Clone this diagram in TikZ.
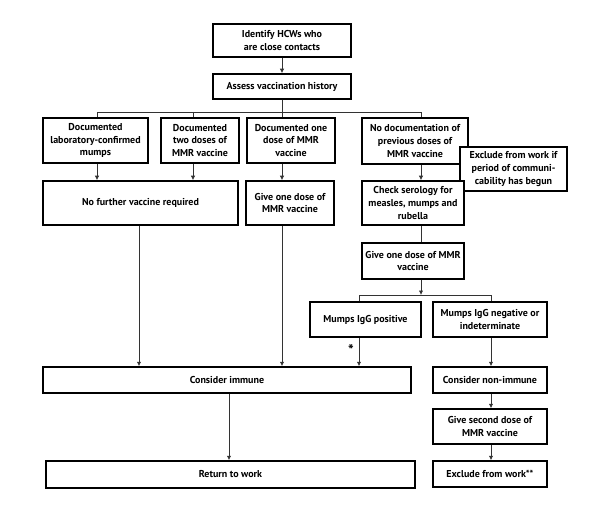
\documentclass[tikz,border=0pt]{standalone}
\usepackage{fontspec}
\setmainfont{PT Sans}
\usetikzlibrary{arrows.meta,calc}
\begin{document}
\begin{tikzpicture}[x=1bp,y=-1bp,
  box/.style={draw=black,line width=1.5bp,fill=white,align=center,inner sep=1bp,
    font=\fontsize{10bp}{12.6bp}\selectfont\bfseries},
  ln/.style={draw=black!80,line width=0.8bp},
  arr/.style={ln,-{Latex[length=4.5bp,width=4.5bp]}}]
\useasboundingbox (0,0) rectangle (598,513);
% columns / rows
\coordinate (c1) at (97,0);
\coordinate (c2) at (193,0);
\coordinate (c3) at (282,0);
\coordinate (c4) at (421,0);
\coordinate (cnf) at (139,0);
\coordinate (cpos) at (359,0);
\coordinate (cneg) at (491,0);
\coordinate (cret) at (229,0);
\coordinate (bar1) at (0,112);
\coordinate (bar2) at (0,295);
% nodes
\node[box,minimum width=138bp,minimum height=33bp] (idf) at (282,40.5) {Identify HCWs who\\are close contacts};
\node[box,minimum width=138bp,minimum height=25bp] (ass) at (282,86.5) {Assess vaccination history};
\node[box,minimum width=105bp,minimum height=45bp] (b1) at (95.5,140.5) {Documented\\laboratory-confirmed\\mumps};
\node[box,minimum width=78bp,minimum height=45bp] (b2) at (200,140.5) {Documented\\two doses of\\MMR vaccine};
\node[box,minimum width=88bp,minimum height=45bp] (b3) at (291,140.5) {Documented one\\dose of MMR\\vaccine};
\node[box,minimum width=106bp,minimum height=46bp] (b4) at (415,141) {No documentation of\\previous doses of\\MMR vaccine};
\node[box,minimum width=107bp,minimum height=44bp] (exc) at (513.5,169) {Exclude from work if\\period of communi-\\cability has begun};
\node[box,minimum width=195bp,minimum height=44bp] (nf) at (140.5,203) {No further vaccine required};
\node[box,minimum width=88bp,minimum height=44bp] (g1) at (290,203) {Give one dose of\\MMR vaccine};
\node[box,minimum width=102bp,minimum height=44bp] (chk) at (413,203) {Check serology for\\measles, mumps and\\rubella};
\node[box,minimum width=102bp,minimum height=36bp] (g2) at (413,261) {Give one dose of MMR\\vaccine};
\node[box,minimum width=111bp,minimum height=35bp] (pos) at (365.5,319.5) {Mumps IgG positive};
\node[box,minimum width=114bp,minimum height=35bp] (neg) at (490,319.5) {Mumps IgG negative or\\indeterminate};
\node[box,minimum width=368bp,minimum height=26bp] (imm) at (227,380) {Consider immune};
\node[box,minimum width=114bp,minimum height=26bp] (nim) at (490,380) {Consider non-immune};
\node[box,minimum width=114bp,minimum height=35bp] (g3) at (490,426.5) {Give second dose of\\MMR vaccine};
\node[box,minimum width=114bp,minimum height=26bp] (exw) at (490,474) {Exclude from work**};
\node[box,minimum width=369bp,minimum height=27bp] (ret) at (230.5,474.5) {Return to work};
\node[font=\fontsize{15bp}{15bp}\selectfont\bfseries,inner sep=0pt] (ast) at (351,350) {*};
% connectors
\draw[arr] (idf) -- (ass);
\draw[ln] (ass.south) -- (bar1 -| c3);
\draw[ln] (b1.north -| c1) |- (bar1 -| c4) -- (b4.north -| c4);
\draw[ln] (bar1 -| c2) -- (b2.north -| c2);
\draw[ln] (bar1 -| c3) -- (b3.north -| c3);
\draw[arr] (b1.south -| c1) -- (nf.north -| c1);
\draw[arr] (b2.south -| c2) -- (nf.north -| c2);
\draw[arr] (b3.south -| c3) -- (g1.north -| c3);
\draw[arr] (b4.south -| c4) -- (chk.north -| c4);
\draw[ln] (chk.south -| c4) -- (g2.north -| c4);
\draw[arr] (g2.south -| c4) -- (bar2 -| c4);
\draw[ln] (pos.north -| cpos) |- (bar2 -| cneg) -- (neg.north -| cneg);
\draw[arr] (pos.south -| cpos) -- (imm.north -| cpos);
\draw[arr] (nf.south -| cnf) -- (imm.north -| cnf);
\draw[arr] (g1.south -| c3) -- (imm.north -| c3);
\draw[arr] (neg.south -| cneg) -- (nim.north -| cneg);
\draw[arr] (nim.south -| cneg) -- (g3.north -| cneg);
\draw[arr] (g3.south -| cneg) -- (exw.north -| cneg);
\draw[arr] (imm.south -| cret) -- (ret.north -| cret);
\end{tikzpicture}
\end{document}
